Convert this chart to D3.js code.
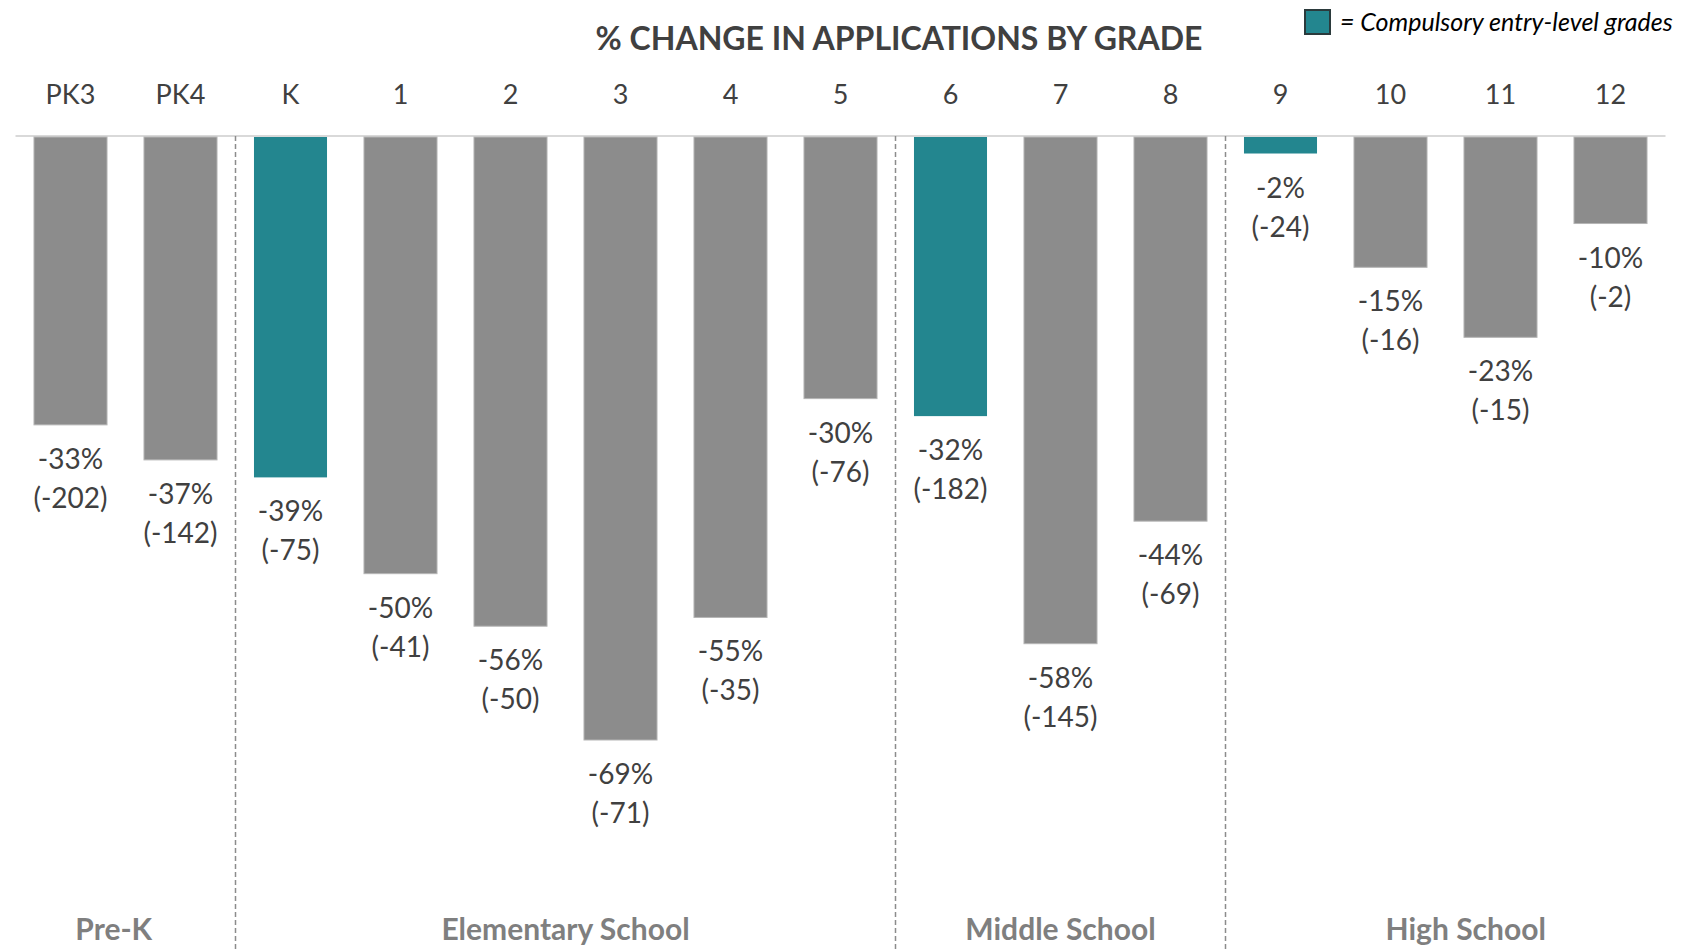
<!DOCTYPE html>
<html>
<head>
<meta charset="utf-8">
<script src="https://cdn.jsdelivr.net/npm/d3@7"></script>
<style>
    body { margin: 0; background: #fff; overflow: hidden; }
    svg text { font-family: Lato, "Open Sans", sans-serif; }
</style>
</head>
<body>
<div id="chart"></div>
<script>
// chart data
const grades = ["PK3", "PK4", "K", "1", "2", "3", "4", "5", "6", "7", "8", "9", "10", "11", "12"];
const pctChange = [-33, -37, -39, -50, -56, -69, -55, -30, -32, -58, -44, -2, -15, -23, -10];
const countChange = [-202, -142, -75, -41, -50, -71, -35, -76, -182, -145, -69, -24, -16, -15, -2];
const compulsory = ["K", "6", "9"];
const groupNames = ["Pre-K", "Elementary School", "Middle School", "High School"];
const groupFirst = ["PK3", "K", "6", "9"];

window.onload = init;

function init()
{
    const width = 1706, height = 949;
    const baseY = 136;

    const svg = d3.select("#chart")
        .append("svg")
        .attr("width", width)
        .attr("height", height);

    const data = grades.map((g, i) => ({ grade: g, pct: pctChange[i], count: countChange[i] }));

    const x = d3.scaleBand()
        .domain(grades)
        .range([15.5, 1665.5])
        .paddingInner(0.336)
        .paddingOuter(0.168);

    const y = d3.scaleLinear()
        .domain([0, -69])
        .range([baseY, 740]);

    const step = x.step();

    // title
    svg.append("text")
        .attr("x", 899).attr("y", 50)
        .attr("text-anchor", "middle")
        .attr("font-size", 32).attr("font-weight", "bold")
        .attr("fill", "#404040")
        .text("% CHANGE IN APPLICATIONS BY GRADE");

    // legend
    const legend = svg.append("g").attr("transform", "translate(1305,10)");
    legend.append("rect")
        .attr("width", 25).attr("height", 24)
        .attr("fill", "#23868f")
        .attr("stroke", "#2b3a3c").attr("stroke-width", 2);
    legend.append("text")
        .attr("x", 35).attr("y", 21)
        .attr("font-size", 25).attr("font-style", "italic")
        .attr("fill", "#000")
        .text("= Compulsory entry-level grades");

    // grade labels along the top
    svg.selectAll(".grade-label")
        .data(grades)
        .enter().append("text")
        .attr("class", "grade-label")
        .attr("x", d => x(d) + x.bandwidth() / 2)
        .attr("y", 104)
        .attr("text-anchor", "middle")
        .attr("font-size", 27)
        .attr("fill", "#404040")
        .text(d => d);

    // baseline
    svg.append("line")
        .attr("x1", x.range()[0]).attr("x2", x.range()[1])
        .attr("y1", baseY).attr("y2", baseY)
        .attr("stroke", "#d9d9d9").attr("stroke-width", 2);

    // bars
    svg.selectAll(".bar")
        .data(data)
        .enter().append("rect")
        .attr("class", "bar")
        .attr("x", d => x(d.grade))
        .attr("y", y(0) + 1)
        .attr("width", x.bandwidth())
        .attr("height", d => y(d.pct) - y(0) - 1)
        .attr("fill", d => compulsory.includes(d.grade) ? "#23868f" : "#8c8c8c")
        .attr("stroke", d => compulsory.includes(d.grade) ? "none" : "#b5b5b5")
        .attr("stroke-width", 1);

    // value labels under each bar
    const labels = svg.selectAll(".value-label")
        .data(data)
        .enter().append("text")
        .attr("class", "value-label")
        .attr("text-anchor", "middle")
        .attr("font-size", 28)
        .attr("fill", "#404040");
    labels.append("tspan")
        .attr("x", d => x(d.grade) + x.bandwidth() / 2)
        .attr("y", d => y(d.pct) + 44)
        .text(d => d.pct + "%");
    labels.append("tspan")
        .attr("x", d => x(d.grade) + x.bandwidth() / 2)
        .attr("y", d => y(d.pct) + 83)
        .text(d => "(" + d.count + ")");

    // group separators and group names
    const groupStart = groupFirst.map(g => x(g) - (step - x.bandwidth()) / 2);
    const groupEnd = groupStart.slice(1).concat([width]);
    groupStart[0] = 0;

    svg.selectAll(".sep")
        .data(groupStart.slice(1))
        .enter().append("line")
        .attr("class", "sep")
        .attr("x1", d => d).attr("x2", d => d)
        .attr("y1", baseY).attr("y2", height)
        .attr("stroke", "#8c8c8c").attr("stroke-width", 1.5)
        .attr("stroke-dasharray", "5,3");

    svg.selectAll(".group-label")
        .data(groupNames)
        .enter().append("text")
        .attr("class", "group-label")
        .attr("x", (d, i) => (groupStart[i] + groupEnd[i]) / 2 - (i === 0 ? 4 : 0))
        .attr("y", 940)
        .attr("text-anchor", "middle")
        .attr("font-size", 30).attr("font-weight", "bold")
        .attr("fill", "#7f7f7f")
        .text(d => d);
}
</script>
</body>
</html>
